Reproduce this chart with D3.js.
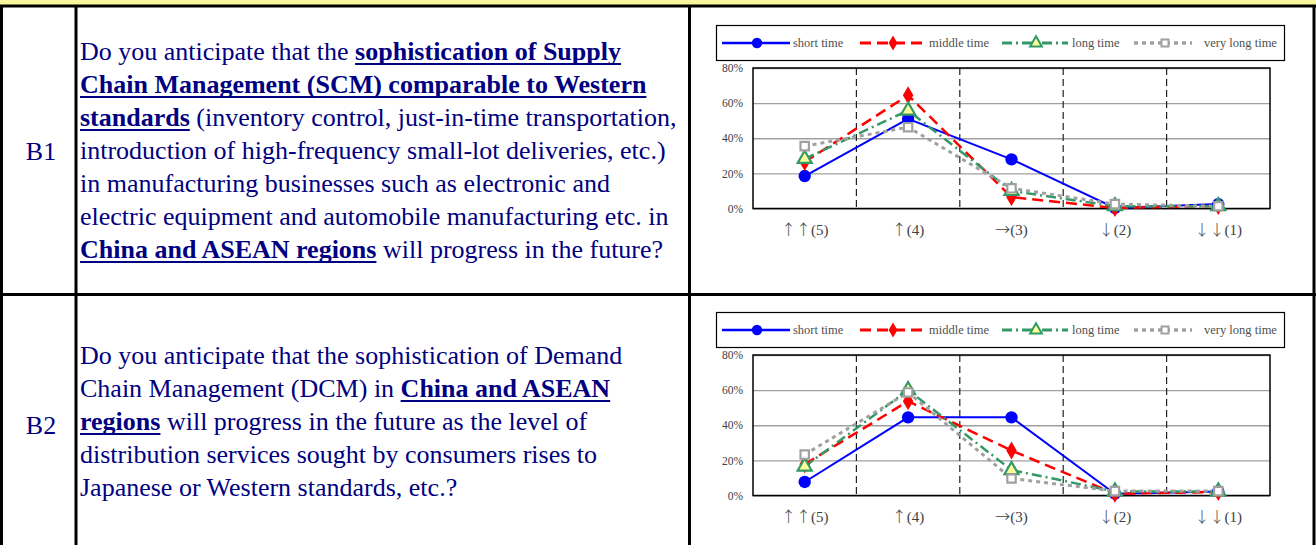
<!DOCTYPE html>
<meta charset="utf-8">
<style>
body{margin:0;background:#fff;}
text{font-family:"Liberation Serif","Times New Roman",serif;}
.q{font-size:26px;fill:#000080;white-space:pre;}
</style>
<body>
<script src="https://d3js.org/d3.v7.min.js"></script>
<script>

// ---- data ----
var categories=["↑ ↑(5)","↑(4)","→(3)","↓(2)","↓ ↓(1)"];
var seriesNames=["short time","middle time","long time","very long time"];
var yTicks=[0,20,40,60,80];

var b1Short=[18.5,51,28,0.3,2.5];
var b1Middle=[26.5,64.5,6.5,0.3,1.5];
var b1Long=[28.3,55.8,10,1.3,1.3];
var b1VeryLong=[35.5,46.3,11.5,2.5,1.3];

var b2Short=[7.7,44.5,44.5,1,2.3];
var b2Middle=[17.8,53.7,25.6,1,2];
var b2Long=[16.5,60,14.5,2.3,2.3];
var b2VeryLong=[23.3,58.7,9.7,2.5,2.5];

var b1Text=[
	[["Do you anticipate that the ",0],["sophistication of Supply",1]],
	[["Chain Management (SCM) comparable to Western",1]],
	[["standards",1],[" (inventory control, just-in-time transportation,",0]],
	[["introduction of high-frequency small-lot deliveries, etc.)",0]],
	[["in manufacturing businesses such as electronic and",0]],
	[["electric equipment and automobile manufacturing etc. in",0]],
	[["China and ASEAN regions",1],[" will progress in the future?",0]]
];
var b2Text=[
	[["Do you anticipate that the sophistication of Demand",0]],
	[["Chain Management (DCM) in ",0],["China and ASEAN",1]],
	[["regions",1],[" will progress in the future as the level of",0]],
	[["distribution services sought by consumers rises to",0]],
	[["Japanese or Western standards, etc.?",0]]
];

var style=[
	{color:"#0000ff",dash:null,width:2,shape:d3.symbolCircle,size:120,fill:"#0000ff"},
	{color:"#ff0000",dash:"11,6",width:2.5,shape:d3.symbolDiamond,size:95,fill:"#ff0000"},
	{color:"#339966",dash:"10,4,2,4",width:2.5,shape:d3.symbolTriangle,size:85,fill:"#ffff99"},
	{color:"#a0a0a0",dash:"4,4",width:3,shape:d3.symbolSquare,size:70,fill:"#ffffff"}
];

var svg=d3.select("body").append("svg").attr("width",1316).attr("height",545);

// table frame
svg.append("rect").attr("x",0).attr("y",0).attr("width",1316).attr("height",5).attr("fill","#fbf59c");
var frame=svg.append("g").attr("stroke","#000").attr("stroke-width",3);
frame.append("line").attr("x1",0).attr("x2",1316).attr("y1",6).attr("y2",6);
frame.append("line").attr("x1",0).attr("x2",1316).attr("y1",294.5).attr("y2",294.5);
[1.5,76,689.5,1314].forEach(function(x){
	frame.append("line").attr("x1",x).attr("x2",x).attr("y1",5).attr("y2",545);
});

svg.append("text").attr("class","q").attr("x",41).attr("y",160).attr("text-anchor","middle").text("B1");
svg.append("text").attr("class","q").attr("x",41).attr("y",434).attr("text-anchor","middle").text("B2");

function writeLines(lines,y0){
	lines.forEach(function(line,i){
		var x=80, y=y0+i*33;
		line.forEach(function(seg){
			var t=svg.append("text").attr("class","q").attr("x",x).attr("y",y)
				.attr("font-weight",seg[1]?"bold":"normal").text(seg[0]);
			var w=t.node().getComputedTextLength();
			if(seg[1]){
				svg.append("line").attr("x1",x).attr("x2",x+w).attr("y1",y+4).attr("y2",y+4)
					.attr("stroke","#000080").attr("stroke-width",2.2);
			}
			x+=w;
		});
	});
}
writeLines(b1Text,60);
writeLines(b2Text,364);

function drawChart(top,data){
	var g=svg.append("g");
	var left=753,right=1270,plotTop=top+43,plotBottom=top+183.5;
	var x=d3.scaleBand().domain(categories).range([left,right]);
	var y=d3.scaleLinear().domain([0,80]).range([plotBottom,plotTop]);
	var cx=function(i){return x(categories[i])+x.bandwidth()/2;};

	// legend
	var lg=g.append("g");
	lg.append("rect").attr("x",716.5).attr("y",top+0.5).attr("width",568).attr("height",35)
		.attr("fill","#fff").attr("stroke","#000").attr("stroke-width",1.2);
	var legX=[[722,790,757,793],[860,926,893,929],[1002,1068,1036,1072],[1134,1192,1165,1204]];
	var ly=top+18;
	seriesNames.forEach(function(name,i){
		var s=style[i],p=legX[i];
		lg.append("line").attr("x1",p[0]).attr("x2",p[1]).attr("y1",ly).attr("y2",ly)
			.attr("stroke",s.color).attr("stroke-width",s.width+0.5).attr("stroke-dasharray",s.dash);
		lg.append("path").attr("d",d3.symbol(s.shape,s.size*0.7)())
			.attr("transform","translate("+p[2]+","+ly+")")
			.attr("fill",s.fill).attr("stroke",s.color).attr("stroke-width",i>1?2:0);
		lg.append("text").attr("x",p[3]).attr("y",ly+4).attr("font-size",12.5)
			.attr("fill","#505050").text(name);
	});

	// gridlines + y axis
	var ya=g.append("g").attr("transform","translate("+left+",0)")
		.call(d3.axisLeft(y).tickValues(yTicks).tickSize(-(right-left)).tickPadding(10)
			.tickFormat(function(d){return d+"%";}));
	ya.select(".domain").remove();
	ya.selectAll(".tick line").attr("stroke","#a0a0a0").attr("stroke-width",1.3);
	ya.selectAll(".tick text").style("font-size","11.5px").style("font-family","Liberation Serif").attr("fill","#404040");

	// category separators
	categories.slice(1).forEach(function(c){
		g.append("line").attr("x1",x(c)).attr("x2",x(c)).attr("y1",plotTop).attr("y2",plotBottom)
			.attr("stroke","#222").attr("stroke-width",1.2).attr("stroke-dasharray","7,4");
	});
	g.append("rect").attr("x",left).attr("y",plotTop).attr("width",right-left).attr("height",plotBottom-plotTop)
		.attr("fill","none").attr("stroke","#000").attr("stroke-width",1.5);

	// x axis labels: arrows in a full-width font, numbers in serif
	var xa=g.append("g").attr("transform","translate(0,"+plotBottom+")")
		.call(d3.axisBottom(x).tickSize(0).tickPadding(16));
	xa.select(".domain").remove();
	xa.selectAll(".tick text").each(function(d){
		var t=d3.select(this).text("").attr("fill","#404040").style("font-size","15px");
		var k=d.indexOf("(");
		t.append("tspan").style("font-family","Noto Sans CJK JP").style("font-weight","300").text(d.slice(0,k).replace(" ",""));
		t.append("tspan").style("font-family","Liberation Serif").text(d.slice(k));
	});

	var line=d3.line().x(function(d,i){return cx(i);}).y(function(d){return y(d);});
	data.forEach(function(vals,k){
		var s=style[k];
		g.append("path").attr("d",line(vals)).attr("fill","none").attr("stroke",s.color)
			.attr("stroke-width",s.width).attr("stroke-dasharray",s.dash);
	});
	data.forEach(function(vals,k){
		var s=style[k];
		g.selectAll(null).data(vals).enter().append("path")
			.attr("d",d3.symbol(s.shape,s.size)())
			.attr("transform",function(d,i){return "translate("+cx(i)+","+y(d)+")";})
			.attr("fill",s.fill).attr("stroke",s.color).attr("stroke-width",k>1?2.2:0);
	});
}

drawChart(25,[b1Short,b1Middle,b1Long,b1VeryLong]);
drawChart(312,[b2Short,b2Middle,b2Long,b2VeryLong]);

</script>
</body>
